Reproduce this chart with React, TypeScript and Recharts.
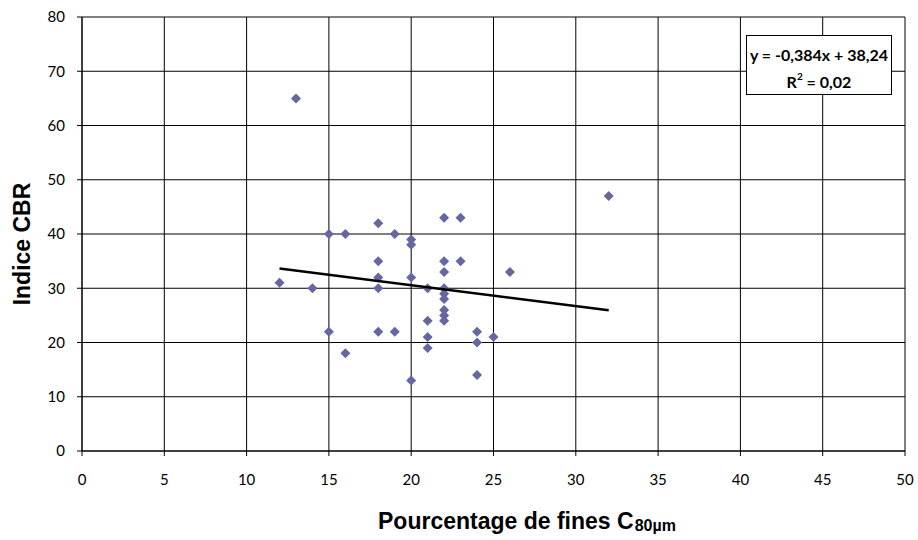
import React from "react";
import { ScatterChart, Scatter, XAxis, YAxis, CartesianGrid } from "recharts";

const finesPct = [12, 13, 14, 15, 15, 16, 16, 18, 18, 18, 18, 18, 19, 19, 20, 20, 20, 20, 21, 21, 21, 21, 22, 22, 22, 22, 22, 22, 22, 22, 22, 23, 23, 24, 24, 24, 25, 26, 32];
const cbrIndex = [31, 65, 30, 40, 22, 40, 18, 42, 35, 32, 30, 22, 40, 22, 39, 38, 32, 13, 30, 24, 21, 19, 43, 35, 33, 30, 29, 28, 26, 25, 24, 43, 35, 22, 20, 14, 21, 33, 47];
const trendX = [12, 32];
const trendY = [33.63, 25.95];
const xTicks = [0, 5, 10, 15, 20, 25, 30, 35, 40, 45, 50];
const yTicks = [0, 10, 20, 30, 40, 50, 60, 70, 80];
const xTitle = "Pourcentage de fines C";
const xTitleSub = "80µm";
const yTitle = "Indice CBR";
const equationText = "y = -0,384x + 38,24";
const r2Text = "0,02";

const points = finesPct.map((x, i) => ({ x, y: cbrIndex[i] }));
const trend = trendX.map((x, i) => ({ x, y: trendY[i] }));

const Diamond = (props: any) => {
  const { cx, cy } = props;
  if (cx == null || cy == null) return null;
  const r = 5;
  return (
    <polygon
      points={`${cx},${cy - r} ${cx + r},${cy} ${cx},${cy + r} ${cx - r},${cy}`}
      fill="#6666A0"
    />
  );
};

const XTitle = () => (
  <text x={378} y={529} textAnchor="start" fontFamily="Liberation Sans, Arial" fontWeight="bold" fontSize={23} fill="#000">
    <tspan>{xTitle}</tspan>
    <tspan fontSize={16} dx={1} dy={2}>{xTitleSub}</tspan>
  </text>
);

const YTitle = () => (
  <text
    x={30}
    y={244}
    textAnchor="middle"
    transform="rotate(-90, 30, 244)"
    fontFamily="Liberation Sans, Arial"
    fontWeight="bold"
    fontSize={23}
    fill="#000"
  >
    {yTitle}
  </text>
);

const tickStyle = { fontSize: 15, fill: "#000", fontFamily: "Lato, Open Sans, sans-serif" };

export default function App() {
  return (
    <div style={{ position: "absolute", left: 0, top: 0, width: 918, height: 540, background: "#fff" }}>
      <ScatterChart width={918} height={540} margin={{ top: 17, right: 13, bottom: 0, left: 0 }}>
        <CartesianGrid stroke="#000" strokeWidth={1} />
        <XAxis
          type="number"
          dataKey="x"
          domain={[0, 50]}
          ticks={xTicks}
          interval={0}
          height={89}
          tickSize={5}
          tickMargin={18}
          tick={tickStyle}
          axisLine={{ stroke: "#000" }}
          tickLine={{ stroke: "#000" }}
          label={{ content: <XTitle /> } as any}
        />
        <YAxis
          type="number"
          dataKey="y"
          domain={[0, 80]}
          ticks={yTicks}
          interval={0}
          width={82}
          tickSize={5}
          tickMargin={12}
          tick={tickStyle}
          axisLine={{ stroke: "#000" }}
          tickLine={{ stroke: "#000" }}
          label={{ content: <YTitle /> } as any}
        />
        <Scatter data={points} shape={<Diamond />} isAnimationActive={false} />
        <Scatter
          data={trend}
          line={{ stroke: "#000", strokeWidth: 2.5 }}
          shape={() => null}
          isAnimationActive={false}
        />
      </ScatterChart>
      <div
        style={{
          position: "absolute",
          left: 746,
          top: 35,
          width: 144,
          height: 53,
          paddingTop: 5,
          border: "1px solid #000",
          background: "#fff",
          fontFamily: "Lato, Open Sans, sans-serif",
          fontWeight: "bold",
          fontSize: 16,
          textAlign: "center",
          lineHeight: "27px",
          color: "#000",
        }}
      >
        <div>{equationText}</div>
        <div>
          R<sup style={{ fontSize: 10, verticalAlign: "8px", lineHeight: 0 }}>2</sup> = {r2Text}
        </div>
      </div>
    </div>
  );
}
